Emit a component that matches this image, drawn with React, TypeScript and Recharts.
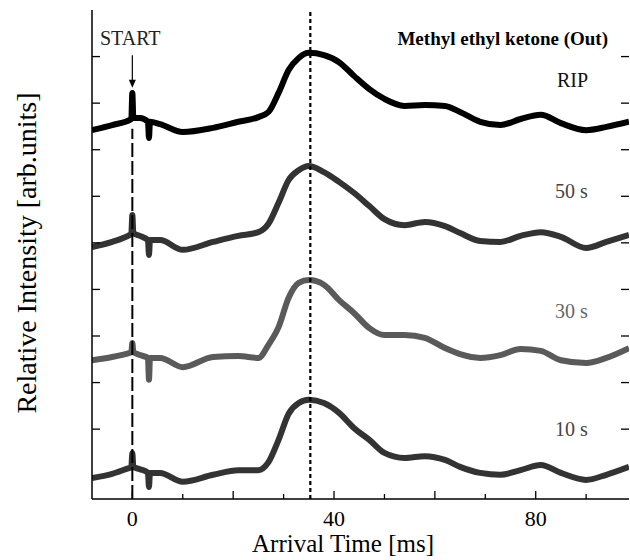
import React from 'react';
import { LineChart, Line, XAxis, YAxis, ReferenceLine, ReferenceDot } from 'recharts';

// arrival time [ms] sample points
const times = [-8, -4, -0.5, -0.2, 0, 0.2, 1.5, 3.1, 3.3, 3.5, 5.5, 10, 16, 21, 25, 27, 29, 31, 33, 35, 38, 41, 44, 47, 50, 54, 58, 62, 65, 69, 73, 77, 81, 85, 90, 94, 98.5];

// relative intensity (offset traces, arb. units)
const rip = [7.42, 7.53, 7.64, 7.66, 8.22, 7.68, 7.68, 7.6, 7.25, 7.6, 7.55, 7.38, 7.47, 7.6, 7.7, 7.81, 8.22, 8.71, 8.97, 9.08, 9.03, 8.88, 8.58, 8.3, 8.09, 7.94, 7.96, 7.94, 7.81, 7.6, 7.53, 7.66, 7.75, 7.57, 7.42, 7.49, 7.6];
const s50 = [4.91, 5.02, 5.17, 5.19, 5.6, 5.21, 5.15, 5.06, 4.74, 5.06, 5.06, 4.85, 5.02, 5.15, 5.23, 5.41, 5.86, 6.35, 6.56, 6.65, 6.52, 6.31, 6.07, 5.79, 5.51, 5.38, 5.45, 5.36, 5.21, 5.04, 5.02, 5.15, 5.23, 5.13, 4.89, 5.02, 5.17];
const s30 = [2.48, 2.55, 2.64, 2.65, 2.85, 2.66, 2.59, 2.53, 2.06, 2.53, 2.53, 2.33, 2.55, 2.57, 2.53, 2.81, 3.19, 3.82, 4.14, 4.2, 4.1, 3.77, 3.49, 3.17, 3.02, 3.02, 2.96, 2.74, 2.61, 2.53, 2.59, 2.72, 2.68, 2.48, 2.42, 2.53, 2.74];
const s10 = [-0.05, 0.04, 0.17, 0.18, 0.49, 0.19, 0.14, 0.06, -0.24, 0.06, 0.06, -0.13, 0.02, 0.12, 0.12, 0.29, 0.77, 1.33, 1.56, 1.63, 1.56, 1.35, 1.02, 0.77, 0.49, 0.38, 0.42, 0.34, 0.19, 0.06, 0.02, 0.12, 0.23, 0.06, -0.09, 0.02, 0.19];

const xTicks = [0, 10, 20, 30, 40, 50, 60, 70, 80, 90];
const xLabels = [0, 40, 80];
const yTicks = [1, 2, 3, 4, 5, 6, 7, 8, 9];
const peakTime = 35.3;

const data = times.map((t, i) => ({ t, rip: rip[i], s50: s50[i], s30: s30[i], s10: s10[i] }));

const serif = "'Liberation Serif', 'Times New Roman', serif";

const BottomTick = (props: any) => {
  const { x, y, payload } = props;
  const len = payload.value % 20 === 0 ? 8 : 5;
  return (
    <g>
      <line x1={x} x2={x} y1={y} y2={y - len} stroke="#000" strokeWidth={1.3} />
      {xLabels.includes(payload.value) && (
        <text x={x} y={y + 27} textAnchor="middle" fontSize={22} fontFamily={serif} fill="#000">
          {payload.value}
        </text>
      )}
    </g>
  );
};

const TopTick = (props: any) => {
  const { x, y, payload } = props;
  const len = payload.value % 20 === 0 ? 8 : 5;
  return <line x1={x} x2={x} y1={y} y2={y + len} stroke="#000" strokeWidth={1.3} />;
};

const LeftTick = (props: any) => {
  const { x, y } = props;
  return <line x1={x} x2={x + 8} y1={y} y2={y} stroke="#000" strokeWidth={1.3} />;
};

const RightTick = (props: any) => {
  const { x, y } = props;
  return <line x1={x} x2={x - 8} y1={y} y2={y} stroke="#000" strokeWidth={1.3} />;
};

const ArrowHead = (props: any) => {
  const { cx, cy } = props;
  return <path d={`M${cx - 3.5},${cy - 8} L${cx + 3.5},${cy - 8} L${cx},${cy} Z`} fill="#000" />;
};

export default function App() {
  return (
    <div style={{ position: 'absolute', left: 0, top: 0, width: 630, height: 560, background: '#fff' }}>
      <LineChart width={630} height={560} data={data} margin={{ top: 10, right: 0, bottom: 0, left: 0 }}>
        <XAxis
          dataKey="t"
          type="number"
          domain={[-8, 98.5]}
          ticks={xTicks}
          interval={0}
          height={61}
          tickSize={0}
          tickMargin={0}
          tick={<BottomTick />}
          axisLine={{ stroke: '#000', strokeWidth: 1.5 }}
          allowDataOverflow
        />
        <XAxis
          xAxisId="top"
          orientation="top"
          dataKey="t"
          type="number"
          domain={[-8, 98.5]}
          ticks={xTicks}
          interval={0}
          height={0}
          tickSize={0}
          tickMargin={0}
          tick={<TopTick />}
          axisLine={{ stroke: '#000', strokeWidth: 1.5 }}
          allowDataOverflow
        />
        <YAxis
          type="number"
          domain={[-0.5, 10]}
          ticks={yTicks}
          interval={0}
          width={92}
          tickSize={0}
          tickMargin={0}
          tick={<LeftTick />}
          axisLine={{ stroke: '#000', strokeWidth: 1.5 }}
          allowDataOverflow
        />
        <YAxis
          yAxisId="right"
          orientation="right"
          type="number"
          domain={[-0.5, 10]}
          ticks={yTicks}
          interval={0}
          width={1}
          tickSize={0}
          tickMargin={0}
          tick={<RightTick />}
          axisLine={false}
          allowDataOverflow
        />
        <Line dataKey="rip" type="monotone" stroke="#000" strokeWidth={6} dot={false} isAnimationActive={false} />
        <Line dataKey="s50" type="monotone" stroke="#333" strokeWidth={6} dot={false} isAnimationActive={false} />
        <Line dataKey="s30" type="monotone" stroke="#5a5a5a" strokeWidth={6} dot={false} isAnimationActive={false} />
        <Line dataKey="s10" type="monotone" stroke="#333" strokeWidth={6} dot={false} isAnimationActive={false} />
        <ReferenceLine x={peakTime} stroke="#000" strokeWidth={2.2} strokeDasharray="4 3" />
        <ReferenceLine segment={[{ x: 0, y: -0.5 }, { x: 0, y: 7.45 }]} stroke="#000" strokeWidth={2} strokeDasharray="14 4" />
        <ReferenceLine segment={[{ x: 0, y: 9.03 }, { x: 0, y: 8.45 }]} stroke="#000" strokeWidth={1.2} />
        <ReferenceDot x={0} y={8.33} r={0} shape={<ArrowHead />} />
      </LineChart>
      <svg width={630} height={560} style={{ position: 'absolute', left: 0, top: 0, pointerEvents: 'none' }} fontFamily={serif}>
        <text x={100} y={45} fontSize={20} fill="#222">START</text>
        <text x={608} y={45} fontSize={19} fontWeight="bold" textAnchor="end" fill="#000">Methyl ethyl ketone (Out)</text>
        <text x={557} y={87} fontSize={20} fill="#111">RIP</text>
        <text x={555} y={198} fontSize={20} fill="#444">50 s</text>
        <text x={555} y={318} fontSize={20} fill="#666">30 s</text>
        <text x={555} y={436} fontSize={20} fill="#444">10 s</text>
        <text x={343} y={552} fontSize={25} textAnchor="middle" fill="#000">Arrival Time [ms]</text>
        <text x={36} y={253} fontSize={28} textAnchor="middle" fill="#000" transform="rotate(-90, 36, 253)">
          Relative Intensity [arb.units]
        </text>
      </svg>
    </div>
  );
}
